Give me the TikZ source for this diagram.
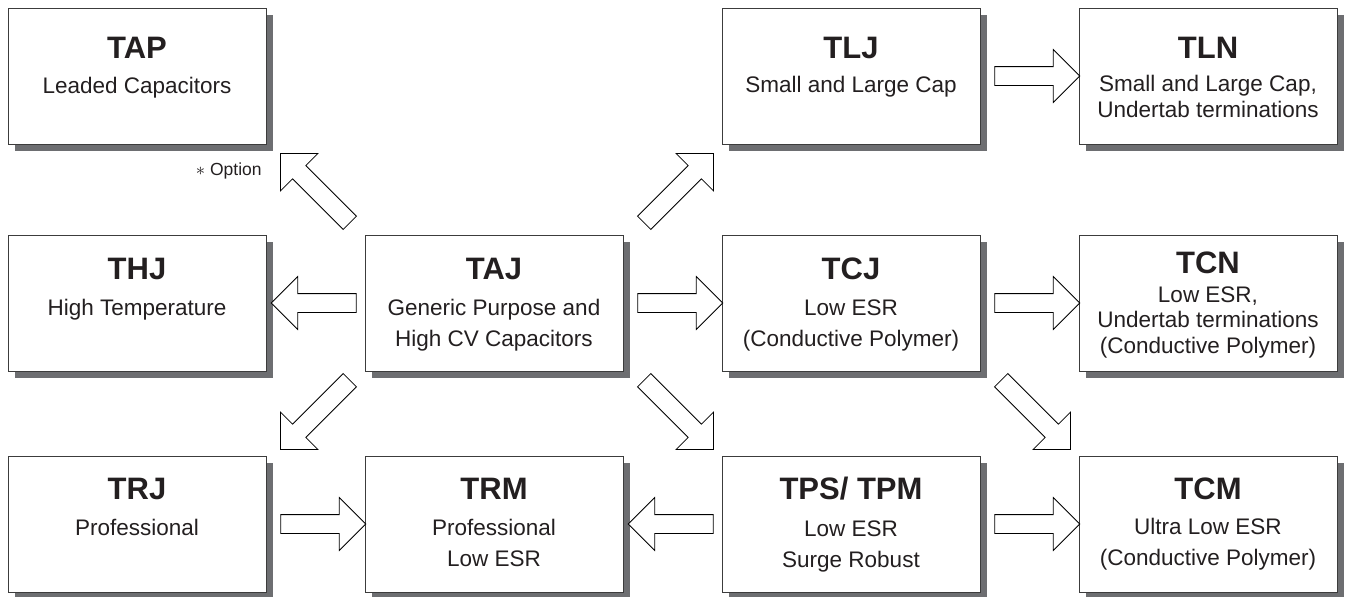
\documentclass[tikz,border=0pt]{standalone}
\usepackage{fontspec}
\setmainfont{Liberation Sans}
\usetikzlibrary{shapes.arrows,shadows,calc}
\definecolor{ink}{HTML}{231F20}
\definecolor{shade}{HTML}{6D6E71}
\definecolor{frame}{HTML}{3C3C3C}
\begin{document}
\begin{tikzpicture}[x=0.5pt,y=-0.5pt]
    \tikzstyle{box} = [rectangle, draw=frame, line width=0.5pt, fill=white, minimum width=129pt, minimum height=68pt, inner sep=0pt, drop shadow={shadow xshift=3.5pt, shadow yshift=-3.5pt, fill=shade, opacity=1}]
    \tikzstyle{title} = [anchor=base, inner sep=0pt, text=ink, font=\fontsize{15.5}{18}\selectfont\bfseries]
    \tikzstyle{body} = [anchor=base, inner sep=0pt, align=center, text=ink, font=\fontsize{11.25}{15.5}\selectfont]
    \tikzstyle{tight} = [font=\fontsize{11.25}{12.75}\selectfont]
    \tikzstyle{barrow} = [single arrow, draw=black, line width=0.4pt, fill=white, inner sep=0pt, inner ysep=4.5pt, single arrow head extend=8.5pt, single arrow tip angle=90, minimum height=42.5pt]
    \tikzstyle{diag} = [minimum height=49pt]
    \useasboundingbox (0,0) rectangle (1346,596);
        % row 1
        \node[box] (tap) at (137,76) {};
        \node[box] (tlj) at (851,76) {};
        \node[box] (tln) at (1208,76) {};
        % row 2
        \node[box] (thj) at (137,303) {};
        \node[box] (taj) at (494,303) {};
        \node[box] (tcj) at (851,303) {};
        \node[box] (tcn) at (1208,303) {};
        % row 3
        \node[box] (trj) at (137,524) {};
        \node[box] (trm) at (494,524) {};
        \node[box] (tps) at (851,524) {};
        \node[box] (tcm) at (1208,524) {};
        %%% labels
        \node[title] (tap-t) at (137,58) {TAP};
        \node[body] (tap-d) at (137,93) {Leaded Capacitors};
        \node[title] (tlj-t) at (851,58) {TLJ};
        \node[body] (tlj-d) at (851,92) {Small and Large Cap};
        \node[title] (tln-t) at (1208,58) {TLN};
        \node[body,tight] (tln-d) at (1208,117) {Small and Large Cap,\\Undertab terminations};
        \node[title] (thj-t) at (137,279) {THJ};
        \node[body] (thj-d) at (137,315) {High Temperature};
        \node[title] (taj-t) at (494,279) {TAJ};
        \node[body] (taj-d) at (494,346) {Generic Purpose and\\High CV Capacitors};
        \node[title] (tcj-t) at (851,279) {TCJ};
        \node[body] (tcj-d) at (851,346) {Low ESR\\(Conductive Polymer)};
        \node[title] (tcn-t) at (1208,273) {TCN};
        \node[body,tight] (tcn-d) at (1208,353) {Low ESR,\\Undertab terminations\\(Conductive Polymer)};
        \node[title] (trj-t) at (137,499) {TRJ};
        \node[body] (trj-d) at (137,535) {Professional};
        \node[title] (trm-t) at (494,499) {TRM};
        \node[body] (trm-d) at (494,566) {Professional\\Low ESR};
        \node[title] (tps-t) at (851,499) {TPS/ TPM};
        \node[body] (tps-d) at (851,567) {Low ESR\\Surge Robust};
        \node[title] (tcm-t) at (1208,499) {TCM};
        \node[body] (tcm-d) at (1208,565) {Ultra Low ESR\\(Conductive Polymer)};
        \node[anchor=base east, inner sep=0pt, text=ink, font=\fontsize{8.75}{10}\selectfont] (opt) at (262,175) {$\ast$ Option};
        %%% arrows
        % straight
        \node[barrow] (tlj-tln) at ($(tlj.east)!.5!(tln.west)+(3,0)$) {};
        \node[barrow,rotate=180] (taj-thj) at ($(taj.west)!.5!(thj.east)+(3,0)$) {};
        \node[barrow] (taj-tcj) at ($(taj.east)!.5!(tcj.west)+(3,0)$) {};
        \node[barrow] (tcj-tcn) at ($(tcj.east)!.5!(tcn.west)+(3,0)$) {};
        \node[barrow] (trj-trm) at ($(trj.east)!.5!(trm.west)+(3,0)$) {};
        \node[barrow,rotate=180] (tps-trm) at ($(tps.west)!.5!(trm.east)+(3,0)$) {};
        \node[barrow] (tps-tcm) at ($(tps.east)!.5!(tcm.west)+(3,0)$) {};
        % diagonal
        \node[barrow,diag,rotate=135] (taj-tap) at ($(taj.north west)!.5!(tap.south east)+(3,2)$) {};
        \node[barrow,diag,rotate=45] (taj-tlj) at ($(taj.north east)!.5!(tlj.south west)+(3,2)$) {};
        \node[barrow,diag,rotate=225] (taj-trj) at ($(taj.south west)!.5!(trj.north east)+(3,-2)$) {};
        \node[barrow,diag,rotate=-45] (taj-tps) at ($(taj.south east)!.5!(tps.north west)+(3,-2)$) {};
        \node[barrow,diag,rotate=-45] (tcj-tcm) at ($(tcj.south east)!.5!(tcm.north west)+(3,-2)$) {};
    \end{tikzpicture}
\end{document}
